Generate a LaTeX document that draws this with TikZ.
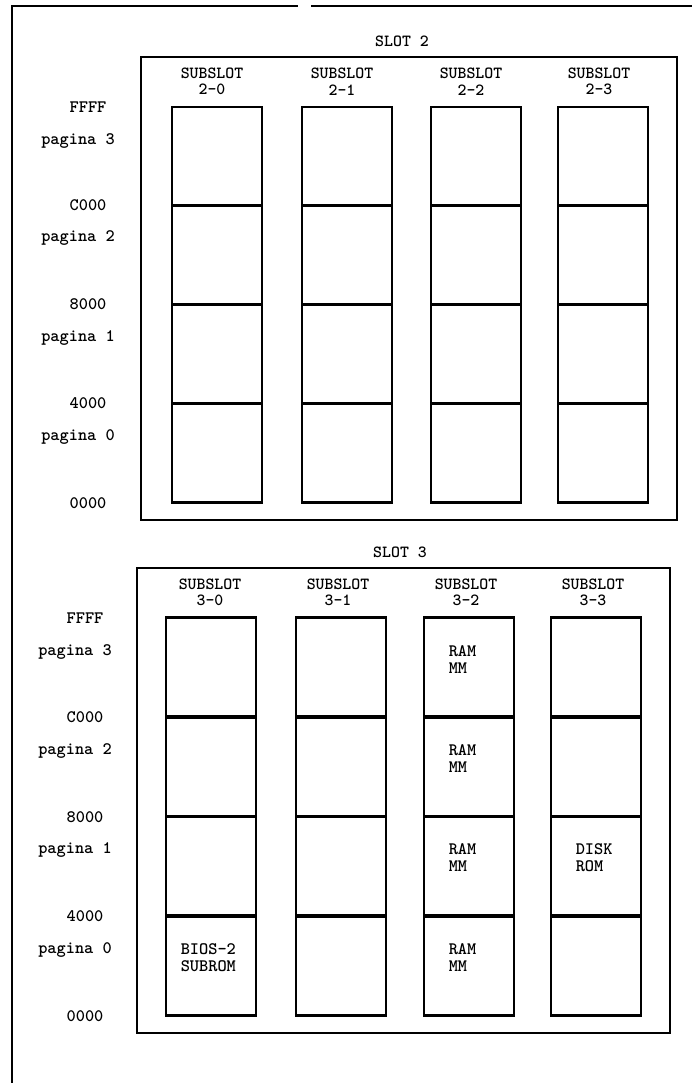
\documentclass[tikz,border=0pt]{standalone}
\usepackage{fontspec}
\newfontfamily\lmbold{lmmonolt10-bold.otf}
\begin{document}
\begin{tikzpicture}[x=1pt,y=-1pt,
  cell/.style={draw,line width=2.8pt,minimum width=90pt,minimum height=99pt,inner sep=0pt},
  slotbox/.style={draw,line width=2.6pt},
  frame/.style={draw,line width=1.6pt},
  lbl/.style={font=\lmbold\fontsize{17.5}{17}\selectfont,inner sep=0pt},
  hdr/.style={font=\lmbold\fontsize{17}{16.5}\selectfont,align=center,inner sep=0pt},
  content/.style={font=\lmbold\fontsize{17.5}{17}\selectfont,align=left,anchor=west,inner sep=0pt}]
\useasboundingbox (0,0) rectangle (692,1083);
% outer frame
\coordinate (f0) at (12,1083);
\coordinate (f1) at (12,6);
\coordinate (f2) at (298,6);
\coordinate (f3) at (311,6);
\coordinate (f4) at (692,6);
\draw[frame] (f0) -- (f1) -- (f2);
\draw[frame] (f3) -- (f4);
% ---------- SLOT 2 ----------
\node[hdr] (s2) at (402,41) {SLOT 2};
\draw[slotbox] (141,57) rectangle (677,520);
\foreach \c/\x/\hx in {0/217/212,1/347/342,2/476/471,3/603/599}{
  \node[hdr] (h2\c) at (\hx,81.5) {SUBSLOT\\2-\c};
  \foreach \r/\y in {3/156.5,2/255,1/353.5,0/453}{
    \node[cell] (a\c\r) at (\x,\y) {};
  }
}
\foreach \t/\y in {FFFF/107,C000/205,8000/304,4000/403,0000/503}{
  \node[lbl] at (88,\y) {\t};}
\foreach \t/\y in {3/141,2/238,1/338,0/437}{
  \node[lbl] at (78,\y) {pagina \t};}
% ---------- SLOT 3 ----------
\node[hdr] (s3) at (400,552) {SLOT 3};
\draw[slotbox] (137,568) rectangle (670,1033);
\foreach \c/\x/\hx in {0/211/210,1/341/338,2/469/466,3/596/593}{
  \node[hdr] (h3\c) at (\hx,592.5) {SUBSLOT\\3-\c};
  \foreach \r/\y in {3/667.5,2/766.5,1/866,0/966}{
    \node[cell,minimum height=99.5pt] (b\c\r) at (\x,\y) {};
  }
}
\foreach \t/\y in {FFFF/618,C000/717,8000/817,4000/916,0000/1016}{
  \node[lbl] at (85,\y) {\t};}
\foreach \t/\y in {3/652,2/751,1/850,0/950}{
  \node[lbl] at (75,\y) {pagina \t};}
% contents
\foreach \r in {3,2,1,0}{
  \node[content] at ([xshift=26pt,yshift=8pt]b2\r.west) {RAM\\MM};}
\node[content] at ([xshift=26pt,yshift=8pt]b31.west) {DISK\\ROM};
\node[content] at ([xshift=16pt,yshift=8pt]b00.west) {BIOS-2\\SUBROM};
\end{tikzpicture}
\end{document}
